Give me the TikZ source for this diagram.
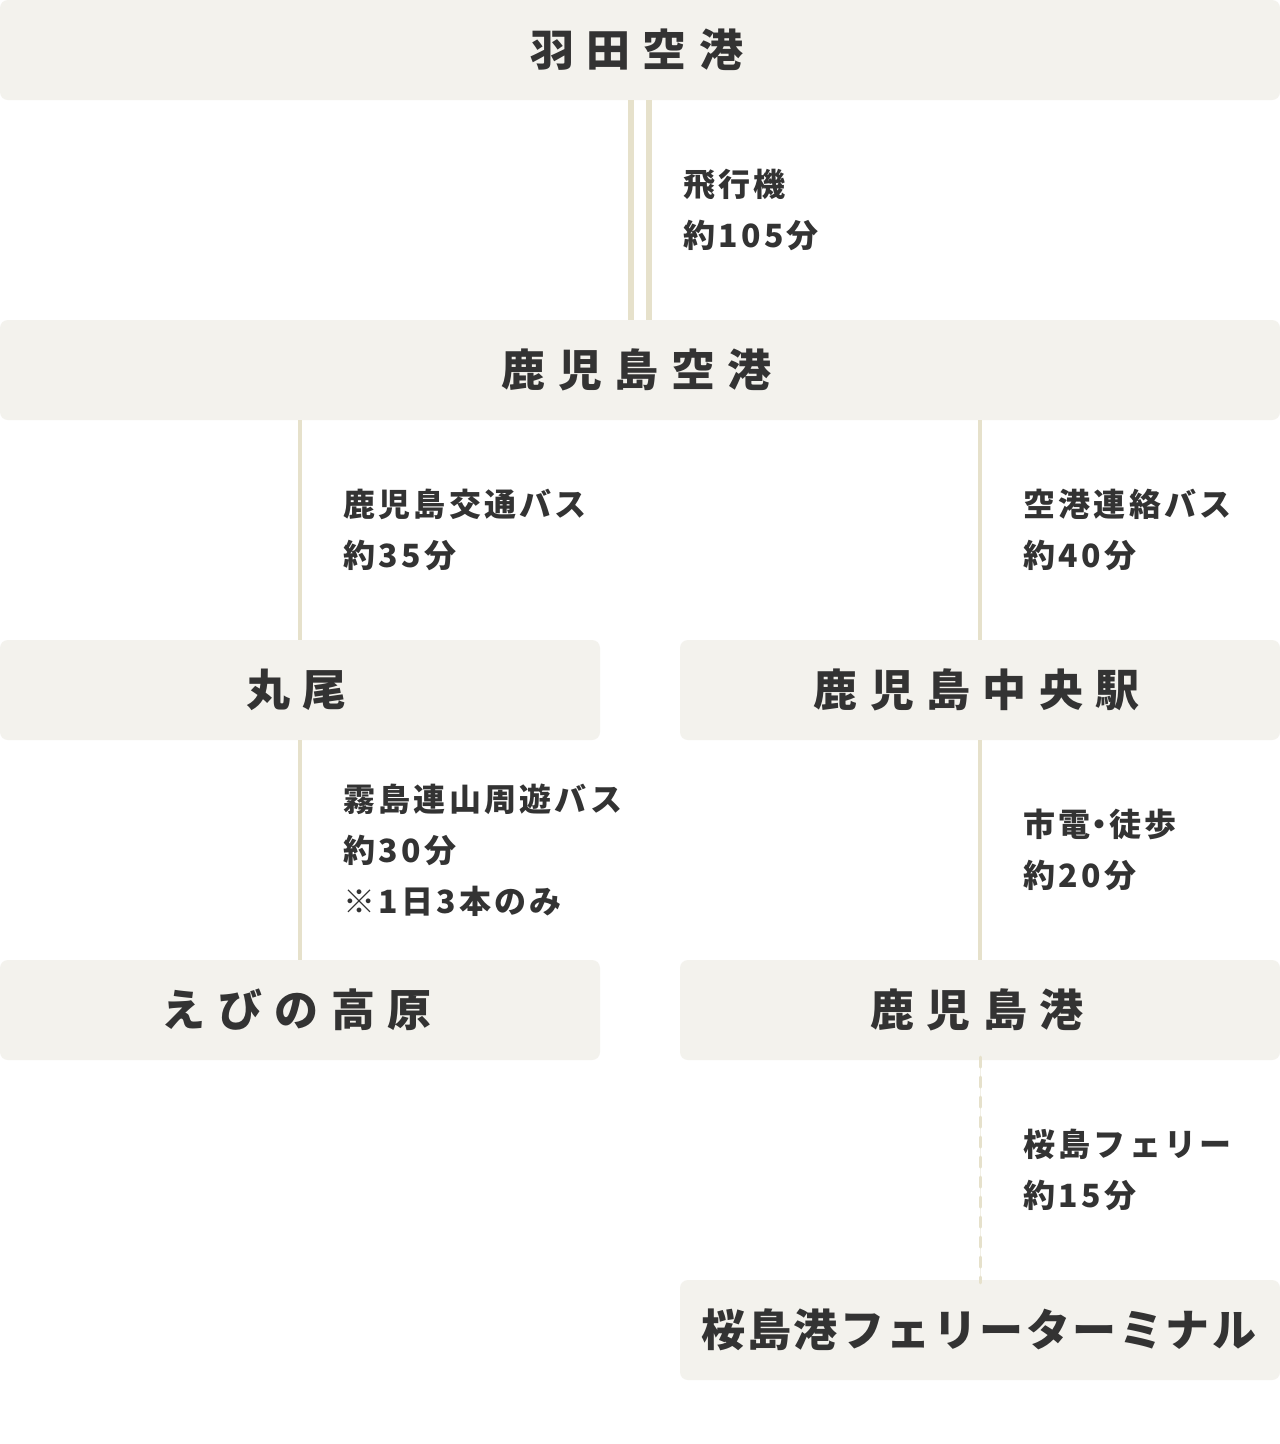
\documentclass[tikz,border=0pt]{standalone}
\usepackage{fontspec}
\usetikzlibrary{calc}
\newfontfamily\jp{Noto Sans CJK JP}
\definecolor{boxfill}{HTML}{F3F2ED}
\definecolor{linec}{HTML}{E6E1CB}
\definecolor{linefaint}{HTML}{F1EFE6}
\definecolor{txt}{HTML}{333333}
\def\trkend{\trkend}
\newcommand\trk[2]{\def\trkamt{#1}\trkloop#2\trkend}
\def\trkloop#1{\ifx#1\trkend\else#1\kern\trkamt\expandafter\trkloop\fi}
\newcommand\ttl[1]{\trk{12.5pt}{#1}\kern-6pt}
\newcommand\lb[1]{\trk{3.3pt}{#1}}
\tikzset{
  stn/.style={fill=boxfill, rounded corners=8pt, minimum height=100pt, inner sep=0pt,
    text=txt, font=\jp\bfseries\fontsize{44}{50}\selectfont},
  lab/.style={anchor=west, align=left, inner sep=0pt, text=txt,
    font=\jp\bfseries\fontsize{32}{51}\selectfont},
  conn/.style={draw=linec, line width=3.5pt},
  dconn/.style={draw=linec, line width=6pt},
  fconn/.style={draw=linec, line width=3pt, dash pattern=on 10pt off 10pt, line cap=round},
}
\begin{document}
\begin{tikzpicture}[x=1pt,y=-1pt]
\fill[white] (0,0) rectangle (1280,1444);
\useasboundingbox (0,0) rectangle (1280,1444);
% stations
\node[stn, minimum width=1280pt] (haneda) at (640,50) {\ttl{羽田空港}};
\node[stn, minimum width=1280pt] (kagoair) at (640,370) {\ttl{鹿児島空港}};
\node[stn, minimum width=600pt] (maruo) at (300,690) {\ttl{丸尾}};
\node[stn, minimum width=600pt] (chuo) at (980,690) {\ttl{鹿児島中央駅}};
\node[stn, minimum width=600pt] (ebino) at (300,1010) {\ttl{えびの高原}};
\node[stn, minimum width=600pt] (kagoport) at (980,1010) {\ttl{鹿児島港}};
\node[stn, minimum width=600pt] (sakura) at (980,1330) {\trk{2.5pt}{桜島港フェリーターミナル}};
% connectors
\draw[dconn] ([xshift=-9pt]haneda.south) -- ([xshift=-9pt]kagoair.north);
\draw[dconn] ([xshift=9pt]haneda.south) -- ([xshift=9pt]kagoair.north);
\draw[conn] (kagoair.south -| maruo.north) -- (maruo.north);
\draw[conn] (kagoair.south -| chuo.north) -- (chuo.north);
\draw[conn] (maruo.south) -- (ebino.north);
\draw[conn] (chuo.south) -- (kagoport.north);
\draw[draw=linefaint, line width=1pt] (kagoport.south) -- (sakura.north);
\draw[fconn] ([yshift=3pt]kagoport.south) -- ([yshift=-3pt]sakura.north);
% labels
\node[lab] (l1) at ($(haneda.south)!0.5!(kagoair.north)+(43,0)$)
  {\lb{飛行機}\\\lb{約105分}};
\node[lab] (l2) at ($(kagoair.south -| maruo.north)!0.5!(maruo.north)+(43,0)$)
  {\lb{鹿児島交通バス}\\\lb{約35分}};
\node[lab] (l3) at ($(kagoair.south -| chuo.north)!0.5!(chuo.north)+(43,0)$)
  {\lb{空港連絡バス}\\\lb{約40分}};
\node[lab] (l4) at ($(maruo.south)!0.5!(ebino.north)+(43,0)$)
  {\lb{霧島連山周遊バス}\\\lb{約30分}\\\lb{※1日3本のみ}};
\node[lab] (l5) at ($(chuo.south)!0.5!(kagoport.north)+(43,0)$)
  {\lb{市電}\kern-10pt・\kern-6.7pt\lb{徒歩}\\\lb{約20分}};
\node[lab] (l6) at ($(kagoport.south)!0.5!(sakura.north)+(43,0)$)
  {\lb{桜島フェリー}\\\lb{約15分}};
\end{tikzpicture}
\end{document}
